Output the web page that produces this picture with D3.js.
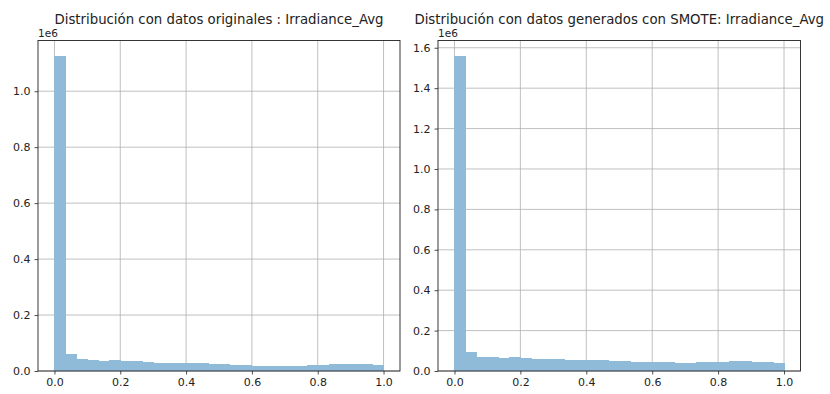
<!DOCTYPE html>
<html>
<head>
<meta charset="utf-8">
<script src="https://cdn.jsdelivr.net/npm/d3@7"></script>
<style>
  html, body { margin: 0; padding: 0; background: #fff; }
  svg { display: block; }
  text { font-family: "DejaVu Sans", sans-serif; fill: #222; }
</style>
</head>
<body>
<svg id="chart" width="830" height="394"></svg>
<script>
// Histogram of Irradiance_Avg: 30 equal bins over [0, 1]
const binEdges = d3.range(31).map(i => i / 30);

const countsOriginal = [
  1125000, 61000, 43000, 40000, 37000, 40000, 35000, 34000, 31000, 30000,
  29000, 28000, 28000, 27000, 26000, 25000, 23000, 20000, 19000, 19000,
  19000, 19000, 19000, 20000, 21000, 24000, 25000, 25000, 24000, 22000
];

const countsSmote = [
  1558000, 92000, 68000, 67000, 63000, 70000, 63000, 58000, 58000, 58000,
  55000, 55000, 55000, 53000, 50000, 48000, 47000, 43000, 43000, 43000,
  42000, 42000, 43000, 43000, 45000, 50000, 50000, 47000, 43000, 38000
];

const xTicks = [0, 0.2, 0.4, 0.6, 0.8, 1.0];
const yTicksOriginal = [0, 0.2e6, 0.4e6, 0.6e6, 0.8e6, 1.0e6];
const yTicksSmote = [0, 0.2e6, 0.4e6, 0.6e6, 0.8e6, 1.0e6, 1.2e6, 1.4e6, 1.6e6];

const titles = [
  "Distribución con datos originales : Irradiance_Avg",
  "Distribución con datos generados con SMOTE: Irradiance_Avg"
];

const panels = [
  { title: titles[0], counts: countsOriginal, yTicks: yTicksOriginal,
    left: 38, right: 400, top: 40.5, bottom: 371 },
  { title: titles[1], counts: countsSmote, yTicks: yTicksSmote,
    left: 438, right: 800.5, top: 40.5, bottom: 371 }
];

const svg = d3.select("#chart");
const barColor = "#8fbbd9";

panels.forEach(p => {
  const w = p.right - p.left, h = p.bottom - p.top;
  const g = svg.append("g").attr("transform", `translate(${p.left},${p.top})`);

  // 5% margins on x; y from 0 to max*1.05
  const x = d3.scaleLinear().domain([-0.05, 1.05]).range([0, w]);
  const yMax = d3.max(p.counts) * 1.05;
  const y = d3.scaleLinear().domain([0, yMax]).range([h, 0]);

  // grid
  g.append("g").selectAll("line").data(xTicks).join("line")
    .attr("x1", d => x(d)).attr("x2", d => x(d))
    .attr("y1", 0).attr("y2", h)
    .attr("stroke", "#b0b0b0").attr("stroke-width", 0.8);
  g.append("g").selectAll("line").data(p.yTicks).join("line")
    .attr("x1", 0).attr("x2", w)
    .attr("y1", d => y(d)).attr("y2", d => y(d))
    .attr("stroke", "#b0b0b0").attr("stroke-width", 0.8);

  // bars
  const bins = p.counts.map((c, i) => ({ x0: binEdges[i], x1: binEdges[i + 1], c }));
  g.append("g").attr("shape-rendering", "crispEdges")
    .selectAll("rect").data(bins).join("rect")
    .attr("x", d => x(d.x0))
    .attr("width", d => x(d.x1) - x(d.x0) + 0.5)
    .attr("y", d => y(d.c))
    .attr("height", d => h - y(d.c))
    .attr("fill", barColor);

  // axes
  const xAxis = d3.axisBottom(x).tickValues(xTicks).tickFormat(d3.format(".1f"))
    .tickSize(3.5).tickPadding(4);
  const gx = g.append("g").attr("transform", `translate(0,${h})`).call(xAxis);
  const yAxis = d3.axisLeft(y).tickValues(p.yTicks).tickFormat(d => (d / 1e6).toFixed(1))
    .tickSize(3.5).tickPadding(4);
  const gy = g.append("g").call(yAxis);
  [gx, gy].forEach(a => {
    a.select(".domain").remove();
    a.selectAll("line").attr("stroke", "#222").attr("stroke-width", 0.8);
    a.selectAll("text").style("font-size", "11px").style("font-family", "DejaVu Sans").attr("fill", "#222");
  });

  // frame
  g.append("rect").attr("x", 0).attr("y", 0).attr("width", w).attr("height", h)
    .attr("fill", "none").attr("stroke", "#222").attr("stroke-width", 0.9);

  // offset label
  g.append("text").attr("x", 0).attr("y", -4).style("font-size", "10.5px").text("1e6");

  // title
  g.append("text").attr("x", w / 2).attr("y", -17).attr("text-anchor", "middle")
    .style("font-size", "13.3px").text(p.title);
});
</script>
</body>
</html>
